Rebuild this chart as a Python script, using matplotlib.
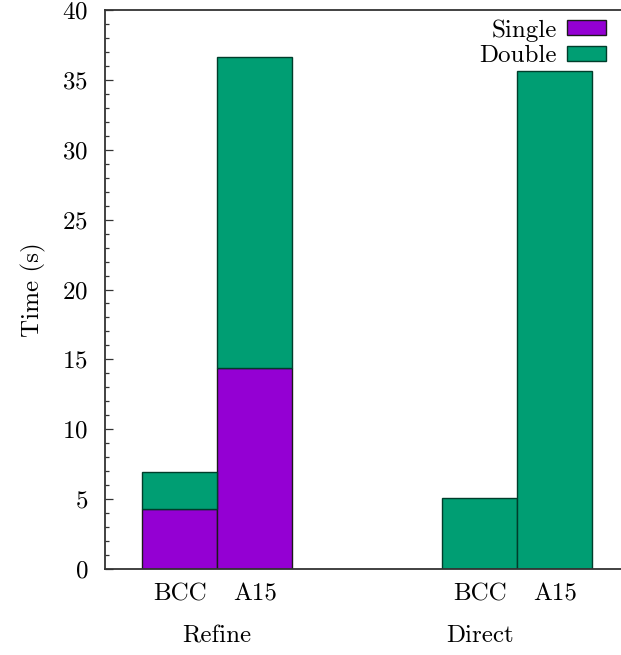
import matplotlib
matplotlib.use("Agg")
import matplotlib.pyplot as plt
from matplotlib.patches import Patch
from matplotlib.ticker import MultipleLocator
import matplotlib.transforms as mtransforms

# timings per structure, split into single and double precision parts
structures = ["BCC", "A15", "BCC", "A15"]
positions = [0, 1, 4, 5]
single_time = [4.27, 14.38, 0.0, 0.0]
double_time = [2.67, 22.26, 5.10, 35.64]
groups = ["Refine", "Direct"]
group_pos = [0.5, 4.0]

purple = "#9400d3"
green = "#009e73"

plt.rcParams["font.family"] = "cmr10"
plt.rcParams["mathtext.fontset"] = "cm"
plt.rcParams["axes.formatter.use_mathtext"] = True
plt.rcParams["font.size"] = 18

fig = plt.figure(figsize=(6.21, 6.55), dpi=100)
ax = fig.add_axes([104.7 / 621, 1 - 569 / 655, (630 - 104.7) / 621, (569 - 10) / 655])

ax.bar(positions, single_time, width=1.0, color=purple, edgecolor="#1a1a1a", linewidth=1.0)
ax.bar(positions, double_time, width=1.0, bottom=single_time, color=green,
       edgecolor="#003d2b", linewidth=1.0)

ax.set_xlim(-1, 6)
ax.set_ylim(0, 40)
ax.yaxis.set_major_locator(MultipleLocator(5))
ax.yaxis.set_minor_locator(MultipleLocator(1))
ax.tick_params(axis="y", which="major", direction="in", length=6, width=0.9, pad=12,
               colors="#333333", labelcolor="black")
ax.tick_params(axis="y", which="minor", direction="in", length=3, width=0.9, colors="#333333")
ax.set_xticks(positions)
ax.set_xticklabels(structures)
ax.tick_params(axis="x", length=0, pad=10)

for side in ["left", "bottom", "top"]:
    ax.spines[side].set_color("#333333")
    ax.spines[side].set_linewidth(1.3)
ax.spines["right"].set_visible(False)

fig.text(33 / 621, 1 - 290 / 655, "Time (s)", rotation=90, ha="center", va="center")

trans = mtransforms.blended_transform_factory(ax.transData, ax.transAxes)
for name, x in zip(groups, group_pos):
    ax.text(x, -0.12, name, transform=trans, ha="center", va="center")

handles = [Patch(facecolor=purple, edgecolor="#1a1a1a", linewidth=1.0),
           Patch(facecolor=green, edgecolor="#003d2b", linewidth=1.0)]
fig.legend(handles, ["Single", "Double"], loc="upper right",
           bbox_to_anchor=(606 / 621, 1 - 19 / 655), frameon=False,
           markerfirst=False, handlelength=1.56, handleheight=0.52,
           handletextpad=0.4, labelspacing=0.15, borderpad=0, borderaxespad=0)

fig.savefig("out.png", dpi=100)
